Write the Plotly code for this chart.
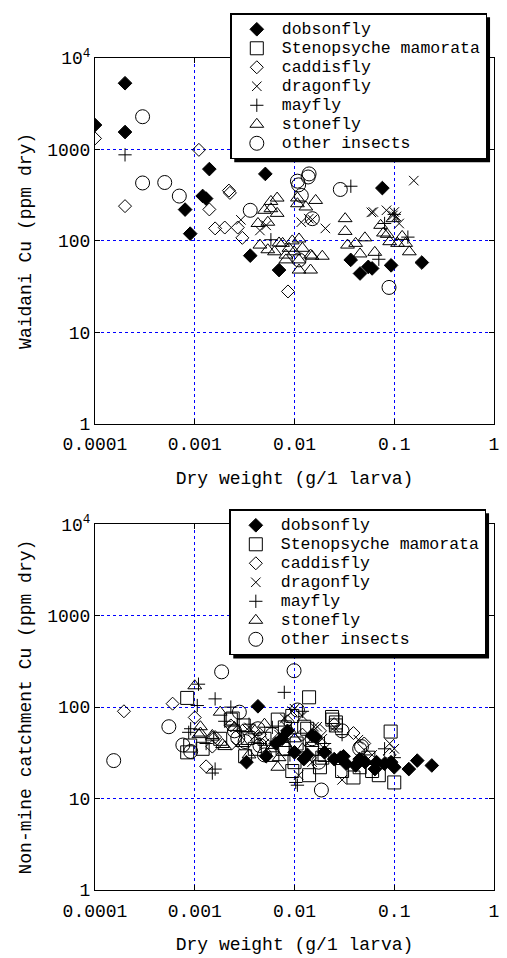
import plotly.graph_objects as go

# ---------------- data: Waidani (top panel) ----------------
w_dobson_x = [0.0001, 0.0002, 0.0002, 0.0014, 0.0012, 0.0013, 0.0008, 0.0009, 0.0051, 0.0036, 0.0070,
              0.0366, 0.0454, 0.0549, 0.060, 0.076, 0.093, 0.189]
w_dobson_y = [1850, 5300, 1550, 610, 310, 290, 220, 120, 540, 69, 48,
              62, 44, 52, 50, 378, 54, 58]

# no Stenopsyche samples at Waidani (legend entry only)
w_steno_x = [None]
w_steno_y = [None]

w_caddis_x = [0.0001, 0.0011, 0.0002, 0.0022, 0.00225, 0.0014, 0.0016, 0.0020, 0.0027, 0.0030, 0.0086]
w_caddis_y = [1320, 990, 240, 355, 335, 221, 137, 140, 140, 108, 28]

w_dragon_x = [0.0029, 0.0052, 0.0117, 0.0151, 0.0204, 0.0139, 0.059, 0.0617, 0.0835, 0.100, 0.097, 0.105,
              0.112, 0.157, 0.0045]
w_dragon_y = [170, 148, 160, 171, 137, 175, 205, 207, 216, 207, 190, 185,
              155, 456, 130]

w_mayfly_x = [0.0002, 0.0058, 0.0367, 0.070, 0.080, 0.137, 0.100]
w_mayfly_y = [873, 103, 396, 63, 155, 110, 195]

w_stone_x = [0.0067, 0.0058, 0.0050, 0.0067, 0.0107, 0.0107, 0.0163, 0.0130, 0.0043, 0.0054, 0.0058,
             0.0045, 0.0054, 0.0063, 0.0076, 0.0082, 0.0088, 0.0099, 0.0111, 0.0111, 0.0145, 0.0150,
             0.0190, 0.0145, 0.0111, 0.0082, 0.0120, 0.0070, 0.0095,
             0.0322, 0.0322, 0.0340, 0.0410, 0.0508, 0.0454, 0.0638, 0.078, 0.073, 0.097, 0.090,
             0.108, 0.1416, 0.130, 0.120, 0.085]
w_stone_y = [294, 270, 216, 200, 295, 255, 277, 235, 155, 160, 225,
             90, 80, 76, 94, 70, 83, 76, 105, 62, 70, 68,
             68, 48, 48, 62, 83, 95, 100,
             175, 127, 90, 94, 108, 72, 75, 122, 148, 175, 98,
             94, 76, 94, 112, 118]

w_other_x = [0.0003, 0.0003, 0.0005, 0.0007, 0.0036, 0.0107, 0.0140, 0.0137, 0.0110, 0.0117, 0.0151,
             0.0288, 0.0886, 0.0111]
w_other_y = [2280, 430, 435, 309, 216, 450, 540, 500, 410, 314, 175,
             365, 31, 62]

# ---------------- data: Non-mine catchment (bottom panel) ----------------
n_dobson_x = [0.0043, 0.0033, 0.0052, 0.0085, 0.0163, 0.0150, 0.0135, 0.0124, 0.0100, 0.0065, 0.020,
              0.025, 0.029, 0.031, 0.033, 0.041, 0.045, 0.051, 0.064, 0.0665, 0.080, 0.093, 0.100,
              0.140, 0.170, 0.238, 0.0075]
n_dobson_y = [102, 25, 29, 55, 47, 49, 30, 27, 32, 40, 32,
              27, 28, 29, 24, 23, 27, 25, 21, 25, 24, 25, 22,
              21, 26, 23, 45]

n_steno_x = [0.00084, 0.00084, 0.0009, 0.0024, 0.0034, 0.0023, 0.0032, 0.0068, 0.014, 0.024, 0.026,
             0.0125, 0.0238, 0.092, 0.100, 0.039, 0.030, 0.020, 0.060, 0.070, 0.008, 0.005, 0.0105,
             0.015, 0.045, 0.010, 0.006, 0.004, 0.018, 0.0012, 0.0018, 0.0095, 0.055, 0.0134,
             0.0031, 0.0095, 0.014, 0.0076, 0.019, 0.026]
n_steno_y = [126, 32, 38, 75, 46, 73, 29, 73, 128, 73, 68,
             61, 78, 54, 15, 17, 20, 30, 20, 18, 60, 45, 40,
             35, 22, 25, 30, 35, 22, 35, 45, 80, 28, 58,
             63, 20, 18, 35, 28, 63]

n_caddis_x = [0.000195, 0.0006, 0.0010, 0.0013, 0.0015, 0.0023, 0.039, 0.0030, 0.0045, 0.0070, 0.012,
              0.018, 0.050, 0.090, 0.0016, 0.025, 0.0085]
n_caddis_y = [90, 109, 77, 22.5, 37, 63, 52, 55, 50, 45, 50,
              55, 40, 30, 47, 65, 70]

n_dragon_x = [0.0026, 0.010, 0.0157, 0.0169, 0.030, 0.0437, 0.090, 0.005, 0.007, 0.008, 0.012, 0.0095,
              0.020, 0.025, 0.060, 0.075, 0.100, 0.0035, 0.015, 0.004, 0.011, 0.019]
n_dragon_y = [38, 96, 61, 61, 16, 44, 40, 40, 50, 75, 80, 90,
              35, 60, 30, 25, 35, 60, 25, 48, 18, 45]

n_mayfly_x = [0.00109, 0.00106, 0.00091, 0.00087, 0.0015, 0.0016, 0.0016, 0.0023, 0.0079, 0.0103, 0.0107,
              0.0020, 0.0028, 0.0035, 0.0045, 0.0060, 0.0090, 0.012, 0.020, 0.030, 0.050, 0.080, 0.100,
              0.0013]
n_mayfly_y = [178, 104, 58, 53, 19, 21, 123, 100, 145, 15, 14,
              70, 55, 65, 40, 60, 30, 90, 40, 50, 30, 35, 28,
              40]

n_stone_x = [0.0010, 0.00114, 0.00114, 0.0018, 0.0015, 0.0019, 0.0020, 0.0015, 0.0011, 0.0068, 0.0030,
             0.0040, 0.0060, 0.0080, 0.0100, 0.0120, 0.0050, 0.0025, 0.0035, 0.0150, 0.0070, 0.0090]
n_stone_y = [171, 52, 61, 88, 47, 39, 37, 49, 50, 22, 40,
             55, 35, 40, 45, 35, 65, 60, 30, 40, 28, 55]

n_other_x = [0.000154, 0.00055, 0.00076, 0.00091, 0.00186, 0.0028, 0.0099, 0.0186, 0.0043, 0.0032, 0.0107,
             0.045, 0.047, 0.006, 0.008, 0.015, 0.0025, 0.005, 0.030, 0.0027, 0.0045, 0.0175]
n_other_y = [26, 61, 38.5, 32.7, 243, 88, 250, 12.4, 58, 42, 93,
             35, 37, 50, 35, 45, 55, 30, 55, 46, 38, 25]

names = ["dobsonfly", "Stenopsyche mamorata", "caddisfly", "dragonfly", "mayfly", "stonefly", "other insects"]

x_ticks = [0.0001, 0.001, 0.01, 0.1, 1]
x_ticktext = ["0.0001", "0.001", "0.01", "0.1", "1"]
y_ticks = [1, 10, 100, 1000, 10000]
y_ticktext = ["1", "10", "100", "1000", "10<sup>4</sup>"]

# ---------------- styles ----------------
styles = [
    dict(symbol="diamond", size=10.5, color="black", line=dict(color="black", width=1)),
    dict(symbol="square-open", size=13, color="black", line=dict(color="black", width=1)),
    dict(symbol="diamond-open", size=10, color="black", line=dict(color="black", width=1)),
    dict(symbol="x-thin-open", size=9.5, color="black", line=dict(color="black", width=1)),
    dict(symbol="cross-thin-open", size=9.5, color="black", line=dict(color="black", width=1)),
    dict(symbol="triangle-up-open", size=12, color="black", line=dict(color="black", width=1)),
    dict(symbol="circle-open", size=14, color="black", line=dict(color="black", width=1)),
]

top_sets = [(w_dobson_x, w_dobson_y), (w_steno_x, w_steno_y), (w_caddis_x, w_caddis_y),
            (w_dragon_x, w_dragon_y), (w_mayfly_x, w_mayfly_y), (w_stone_x, w_stone_y),
            (w_other_x, w_other_y)]
bot_sets = [(n_dobson_x, n_dobson_y), (n_steno_x, n_steno_y), (n_caddis_x, n_caddis_y),
            (n_dragon_x, n_dragon_y), (n_mayfly_x, n_mayfly_y), (n_stone_x, n_stone_y),
            (n_other_x, n_other_y)]

def leg_name(s):
    return '<span style="font-size:16.5px">' + s + '</span>'

fig = go.Figure()
for i, (xs, ys) in enumerate(top_sets):
    fig.add_trace(go.Scatter(x=xs, y=ys, mode="markers", name=leg_name(names[i]), marker=styles[i],
                             xaxis="x", yaxis="y", legend="legend"))
for i, (xs, ys) in enumerate(bot_sets):
    fig.add_trace(go.Scatter(x=xs, y=ys, mode="markers", name=leg_name(names[i]), marker=styles[i],
                             xaxis="x2", yaxis="y2", legend="legend2"))

W, H = 507, 958
ML, MR, MT, MB = 95, 8, 58, 63
PW, PH = W - ML - MR, H - MT - MB
top_dom = [1 - 368 / PH, 1]
bot_dom = [0, 368 / PH]

MONO = "Liberation Mono, DejaVu Sans Mono, monospace"

def xax(anchor):
    return dict(type="log", range=[-4, 0], tickvals=x_ticks, ticktext=x_ticktext,
                showgrid=True, gridcolor="#0000ff", griddash="dot", gridwidth=1,
                showline=True, linecolor="black", linewidth=1, mirror="ticks",
                ticks="inside", ticklen=5, tickcolor="black", zeroline=False,
                ticklabelstandoff=4,
                tickfont=dict(family=MONO, size=18, color="black"),
                title=dict(text="Dry weight (g/1 larva)", font=dict(family=MONO, size=18, color="black"),
                           standoff=16),
                anchor=anchor)

def yax(anchor, dom, title):
    return dict(type="log", range=[0, 4], tickvals=y_ticks, ticktext=y_ticktext, domain=dom,
                showgrid=True, gridcolor="#0000ff", griddash="dot", gridwidth=1,
                showline=True, linecolor="black", linewidth=1, mirror="ticks",
                ticks="inside", ticklen=5, tickcolor="black", zeroline=False,
                tickfont=dict(family=MONO, size=18, color="black"),
                title=dict(text=title, font=dict(family=MONO, size=18, color="black"), standoff=10),
                anchor=anchor)

def px2paper(px, py):
    return (px - ML) / PW, (H - MB - py) / PH

leg_common = dict(xanchor="left", yanchor="top", bgcolor="white", bordercolor="black", borderwidth=1.5,
                  font=dict(family=MONO, size=12, color="black"), itemwidth=40, tracegroupgap=0)
lx1, ly1 = px2paper(232, 13)
lx2, ly2 = px2paper(231, 512)

shapes = []
for (x0p, y0p, x1p, y1p) in [(236, 17, 495, 163), (235, 516, 494, 662)]:
    a0, b0 = px2paper(x0p, y1p)
    a1, b1 = px2paper(x1p, y0p)
    shapes.append(dict(type="rect", xref="paper", yref="paper", x0=a0, y0=b0, x1=a1, y1=b1,
                       fillcolor="black", line=dict(width=0), layer="above"))

fig.update_layout(
    width=W, height=H, margin=dict(l=ML, r=MR, t=MT, b=MB),
    paper_bgcolor="white", plot_bgcolor="white",
    xaxis=xax("y"), yaxis=yax("x", top_dom, "Waidani Cu (ppm dry)"),
    xaxis2=xax("y2"), yaxis2=yax("x2", bot_dom, "Non-mine catchment Cu (ppm dry)"),
    legend=dict(x=lx1, y=ly1, **leg_common),
    legend2=dict(x=lx2, y=ly2, **leg_common),
    shapes=shapes,
    showlegend=True,
)

fig.write_html("out.html")
